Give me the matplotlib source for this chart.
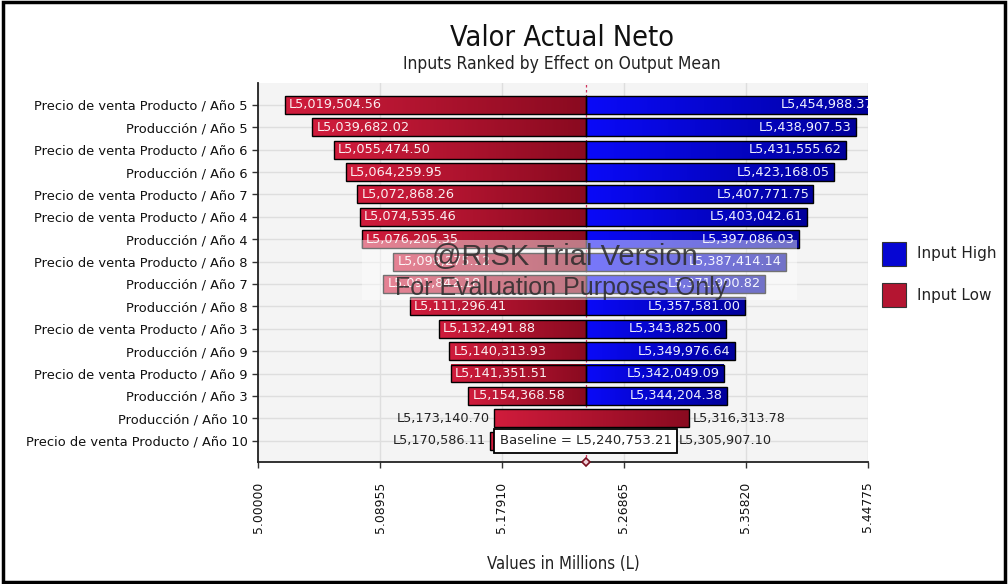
import matplotlib
matplotlib.use("Agg")
import matplotlib.pyplot as plt
import numpy as np
from matplotlib.patches import Rectangle
from matplotlib.colors import LinearSegmentedColormap

# Tornado data: output mean (in millions) at the low and high value of each input
inputs = [
    "Precio de venta Producto / Año 5",
    "Producción / Año 5",
    "Precio de venta Producto / Año 6",
    "Producción / Año 6",
    "Precio de venta Producto / Año 7",
    "Precio de venta Producto / Año 4",
    "Producción / Año 4",
    "Precio de venta Producto / Año 8",
    "Producción / Año 7",
    "Producción / Año 8",
    "Precio de venta Producto / Año 3",
    "Producción / Año 9",
    "Precio de venta Producto / Año 9",
    "Producción / Año 3",
    "Producción / Año 10",
    "Precio de venta Producto / Año 10",
]
low_values = [
    5.01950456, 5.03968202, 5.05547450, 5.06425995, 5.07286826, 5.07453546,
    5.07620535, 5.09927512, 5.09184218, 5.11129641, 5.13249188, 5.14031393,
    5.14135151, 5.15436858, 5.17314070, 5.17058611,
]
high_values = [
    5.45498837, 5.43890753, 5.43155562, 5.42316805, 5.40777175, 5.40304261,
    5.39708603, 5.38741414, 5.37190082, 5.35758100, 5.34382500, 5.34997664,
    5.34204909, 5.34420438, 5.31631378, 5.30590710,
]
baseline = 5.24075321
x_ticks = [5.00000, 5.08955, 5.17910, 5.26865, 5.35820, 5.44775]
x_tick_labels = ["5.00000", "5.08955", "5.17910", "5.26865", "5.35820", "5.44775"]

red_cmap = LinearSegmentedColormap.from_list("lowshade", ["#d01c3c", "#8a0a20"])
blue_cmap = LinearSegmentedColormap.from_list("highshade", ["#0a0af8", "#00009c"])
narrow = dict(family=["DejaVu Sans Condensed", "DejaVu Sans"], stretch="condensed")
ramp = np.linspace(0, 1, 64).reshape(1, -1)
bar_h = 0.8


def money(v):
    return "L{:,.2f}".format(v * 1e6)


def shaded_bar(ax, row, start, width, cmap):
    """Horizontal bar whose fill fades from light (left) to dark (right)."""
    bar = ax.barh(row, width, left=start, height=bar_h, facecolor="none",
                  edgecolor="black", linewidth=1.0, zorder=4)[0]
    x0, y0 = bar.get_x(), bar.get_y()
    im = ax.imshow(ramp, cmap=cmap, aspect="auto", interpolation="bilinear",
                   extent=[x0, x0 + bar.get_width(), y0 + bar.get_height(), y0],
                   zorder=3)
    im.set_clip_path(bar)
    im.set_clip_box(ax.bbox)
    return bar


fig = plt.figure(figsize=(10.08, 5.84), dpi=100)
fig.patch.set_facecolor("white")
ax = fig.add_axes([0.256, 0.209, 0.605, 0.649])
ax.set_facecolor("#f4f4f4")

n = len(inputs)
rows = list(range(n))

ax.axvline(baseline, color="#d0305a", lw=0.9, ls=(0, (2, 2)), zorder=1)

for i, (lo, hi) in enumerate(zip(low_values, high_values)):
    inner = i < n - 2
    if inner:
        shaded_bar(ax, i, lo, baseline - lo, red_cmap)
        shaded_bar(ax, i, baseline, hi - baseline, blue_cmap)
        ax.annotate(money(lo), (lo, i), xytext=(3, 0), textcoords="offset points",
                    ha="left", va="center", color="#fbeff1", fontsize=9.3,
                    zorder=5, clip_on=True)
        t = ax.annotate(money(hi), (hi, i), xytext=(-3, 0), textcoords="offset points",
                        ha="right", va="center", color="#eef0ff", fontsize=9.3,
                        zorder=5, annotation_clip=False)
        t.set_clip_on(True)
        t.set_clip_box(ax.bbox)
    else:
        shaded_bar(ax, i, lo, hi - lo, red_cmap)
        ax.annotate(money(lo), (lo, i), xytext=(-3, 0), textcoords="offset points",
                    ha="right", va="center", color="#222222", fontsize=9.3, zorder=5)
        ax.annotate(money(hi), (hi, i), xytext=(3, 0), textcoords="offset points",
                    ha="left", va="center", color="#222222", fontsize=9.3, zorder=5)

# Baseline call-out on the last row
ax.text(baseline, n - 1, "Baseline = " + money(baseline), ha="center", va="center",
        fontsize=9.5, color="#222222", zorder=7,
        bbox=dict(boxstyle="square,pad=0.42", fc="white", ec="black", lw=1.3))
ax.plot([baseline], [n - 0.05], marker="D", ms=4.5, mfc="#f0d0d8", mec="#7a1020",
        mew=1.2, zorder=8, clip_on=False)

ax.set_xlim(5.0, 5.44775)
ax.set_ylim(n - 0.05, -0.98)
ax.set_aspect("auto")
ax.set_yticks(rows)
ax.set_yticklabels(inputs, fontsize=9.4, color="#111111")
ax.set_xticks(x_ticks)
ax.set_xticklabels(x_tick_labels, rotation=90, fontsize=8.9, color="#111111")
ax.tick_params(axis="both", direction="out", length=4, width=1, color="#333333")
ax.tick_params(axis="x", pad=10)
ax.grid(True, color="#dedede", lw=1.0, zorder=0)
ax.set_axisbelow(True)
for side in ("top", "right"):
    ax.spines[side].set_visible(False)
for side in ("left", "bottom"):
    ax.spines[side].set_color("#222222")
    ax.spines[side].set_linewidth(1.3)

ax.set_xlabel("Values in Millions (L)", fontsize=12, color="#222222", labelpad=16,
              **narrow)

fig.text(0.5575, 0.935, "Valor Actual Neto", ha="center", va="center",
         fontsize=20.7, color="#111111", **narrow)
fig.text(0.5575, 0.890, "Inputs Ranked by Effect on Output Mean", ha="center",
         va="center", fontsize=12.5, color="#222222", **narrow)

# Legend
for y0, cmap, lab in [(0.545, blue_cmap, "Input High"), (0.474, red_cmap, "Input Low")]:
    fig.add_artist(Rectangle((0.875, y0), 0.0238, 0.041, transform=fig.transFigure,
                             fc=cmap(0.4), ec="#333333", lw=0.8))
    fig.text(0.910, y0 + 0.0205, lab, ha="left", va="center", fontsize=11,
             color="#222222")

# Trial watermark with its translucent backing
fig.add_artist(Rectangle((0.359, 0.486), 0.432, 0.103, transform=fig.transFigure,
                         fc="white", ec="none", alpha=0.45, zorder=10))
fig.text(0.560, 0.560, "@RISK Trial Version", ha="center", va="center", fontsize=21,
         family=["Liberation Sans", "DejaVu Sans"], color="#2a2a2a", alpha=0.85,
         zorder=11)
fig.text(0.557, 0.507, "For Evaluation Purposes Only", ha="center", va="center",
         fontsize=18, family=["Liberation Sans", "DejaVu Sans"], color="#2a2a2a",
         alpha=0.85, zorder=11)

# Outer frame
fig.add_artist(Rectangle((0.003, 0.004), 0.994, 0.992, transform=fig.transFigure,
                         fc="none", ec="black", lw=2.5))

fig.savefig("out.png", dpi=100)
